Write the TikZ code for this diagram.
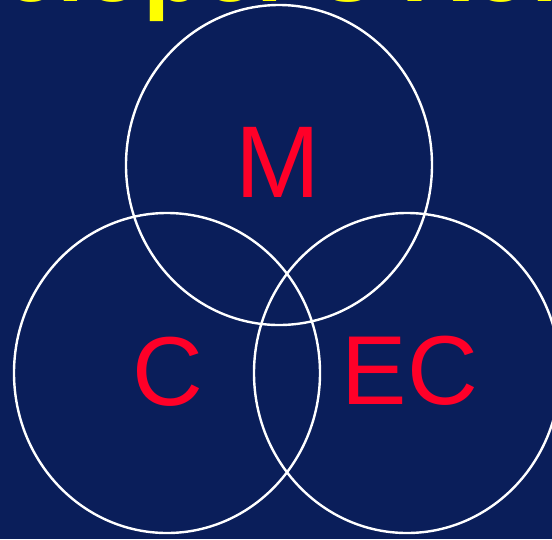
\documentclass[tikz,border=0pt]{standalone}
\usepackage{fontspec}
\setmainfont{Liberation Sans}
\definecolor{slidebg}{RGB}{10,30,90}
\definecolor{lblred}{RGB}{255,0,40}
\definecolor{titleyellow}{RGB}{255,255,0}
\begin{document}
\begin{tikzpicture}[x=1pt, y=-1pt]
                \useasboundingbox (0,0) rectangle (552,539);
                \clip (0,0) rectangle (552,539);
                \fill[slidebg] (0,0) rectangle (552,539);
                \node[titleyellow, anchor=base west, inner sep=0, font=\bfseries\fontsize{97}{97}\selectfont] (title) at (-175,1.5) {Developer's Role};

                % three overlapping rings
                \draw[white, line width=2.4pt] (279,165) ellipse [x radius=153pt, y radius=160pt];
                \draw[white, line width=2.4pt] (167,373) ellipse [x radius=153pt, y radius=160pt];
                \draw[white, line width=2.4pt] (407,373) ellipse [x radius=153pt, y radius=160pt];

                \node[lblred, anchor=base, inner sep=0, font=\fontsize{102}{102}\selectfont] (m) at (278,197) {M};
                \node[lblred, anchor=base, inner sep=0, font=\fontsize{98}{98}\selectfont] (c) at (168,405) {C};
                \node[lblred, anchor=base, inner sep=0, font=\fontsize{98}{98}\selectfont] (ec) at (410,404) {EC};
            \end{tikzpicture}
\end{document}
